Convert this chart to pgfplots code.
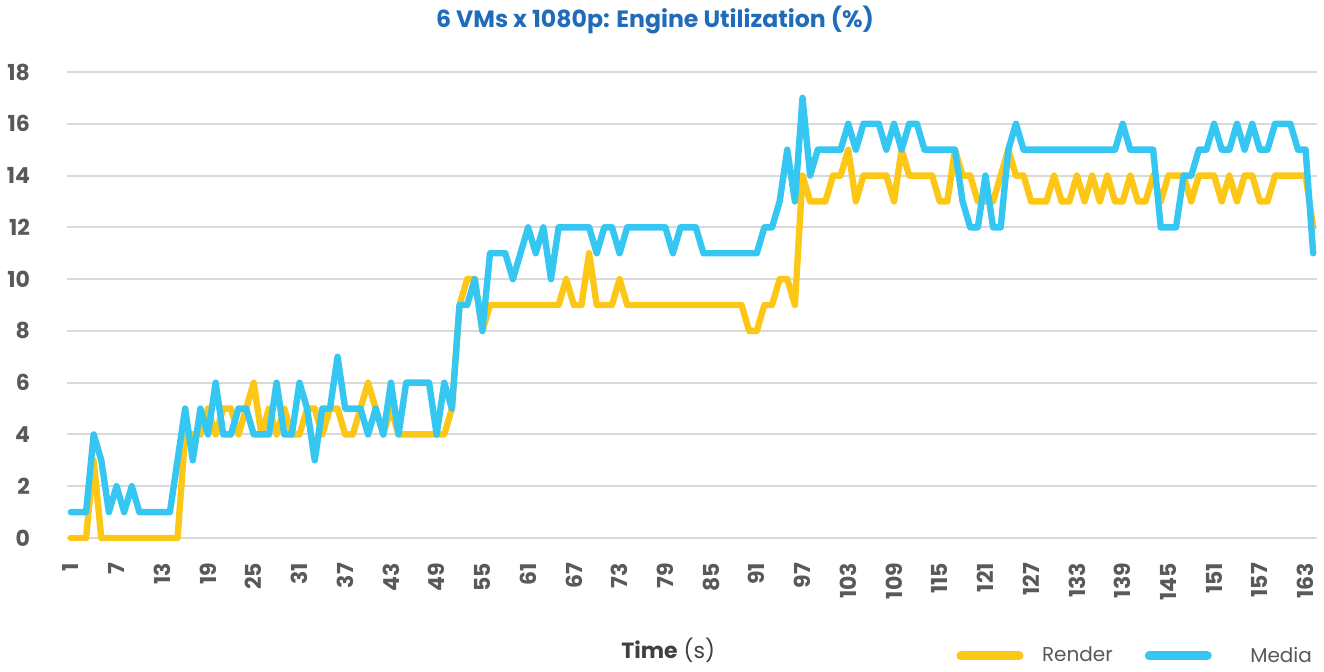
\documentclass[border=0pt]{standalone}
\usepackage{fontspec}
\setmainfont{Poppins}
\usepackage{pgfplots}
\usepackage{pgfplotstable}
\pgfplotsset{compat=1.18}
\definecolor{render}{RGB}{253,199,23}
\definecolor{media}{RGB}{53,198,242}
\definecolor{titleblue}{RGB}{32,108,186}
\definecolor{gridgray}{RGB}{217,217,217}
\definecolor{ticktext}{RGB}{89,89,89}

\pgfplotstableread{
t r m
1 0 1
2 0 1
3 0 1
4 3 4
5 0 3
6 0 1
7 0 2
8 0 1
9 0 2
10 0 1
11 0 1
12 0 1
13 0 1
14 0 1
15 0 3
16 4 5
17 4 3
18 4 5
19 5 4
20 4 6
21 5 4
22 5 4
23 4 5
24 5 5
25 6 4
26 4 4
27 5 4
28 4 6
29 5 4
30 4 4
31 4 6
32 5 5
33 5 3
34 4 5
35 5 5
36 5 7
37 4 5
38 4 5
39 5 5
40 6 4
41 5 5
42 4 4
43 5 6
44 4 4
45 4 6
46 4 6
47 4 6
48 4 6
49 4 4
50 4 6
51 5 5
52 9 9
53 10 9
54 10 10
55 8 8
56 9 11
57 9 11
58 9 11
59 9 10
60 9 11
61 9 12
62 9 11
63 9 12
64 9 10
65 9 12
66 10 12
67 9 12
68 9 12
69 11 12
70 9 11
71 9 12
72 9 12
73 10 11
74 9 12
75 9 12
76 9 12
77 9 12
78 9 12
79 9 12
80 9 11
81 9 12
82 9 12
83 9 12
84 9 11
85 9 11
86 9 11
87 9 11
88 9 11
89 9 11
90 8 11
91 8 11
92 9 12
93 9 12
94 10 13
95 10 15
96 9 13
97 14 17
98 13 14
99 13 15
100 13 15
101 14 15
102 14 15
103 15 16
104 13 15
105 14 16
106 14 16
107 14 16
108 14 15
109 13 16
110 15 15
111 14 16
112 14 16
113 14 15
114 14 15
115 13 15
116 13 15
117 15 15
118 14 13
119 14 12
120 13 12
121 13 14
122 13 12
123 14 12
124 15 15
125 14 16
126 14 15
127 13 15
128 13 15
129 13 15
130 14 15
131 13 15
132 13 15
133 14 15
134 13 15
135 14 15
136 13 15
137 14 15
138 13 15
139 13 16
140 14 15
141 13 15
142 13 15
143 14 15
144 13 12
145 14 12
146 14 12
147 14 14
148 13 14
149 14 15
150 14 15
151 14 16
152 13 15
153 14 15
154 13 16
155 14 15
156 14 16
157 13 15
158 13 15
159 14 16
160 14 16
161 14 16
162 14 15
163 14 15
164 12 11
}\datatable

\begin{document}
\begin{tikzpicture}
\begin{axis}[
  at={(0,0)}, anchor=south west,
  scale only axis, width=625pt, height=233pt,
  xmin=0.5, xmax=164.5, ymin=0, ymax=18,
  xtick={1,7,...,163}, ytick={0,2,...,18},
  ymajorgrids, grid style={gridgray, line width=1pt},
  axis line style={draw=none}, major tick length=0pt,
  clip=false,
  /pgf/number format/assume math mode=true,
  tick label style={font=\bfseries\fontsize{11}{13}\selectfont, text=ticktext},
  xticklabel style={rotate=90, anchor=east},
  xticklabel shift=9pt,
  yticklabel style={anchor=east, xshift=-15pt},
  every axis title shift=0pt,
  title={6 VMs x 1080p: Engine Utilization (\%)},
  title style={at={(axis description cs:0.4704,1.1116)}, anchor=center,
    font=\bfseries\fontsize{11.8}{14}\selectfont, text=titleblue},
  legend style={at={(axis description cs:0.7064,-0.253)}, anchor=west,
    draw=none, fill=none, legend columns=2,
    font=\fontsize{10}{12}\selectfont, text=ticktext,
    /tikz/every even column/.append style={column sep=14pt}},
  legend cell align=left,
  legend image code/.code={\draw[#1, line width=4.5pt, line cap=round] (2.25pt,0pt) -- (31.25pt,0pt); \path (39.2pt,0pt);},
]
\addplot[render, line width=3.2pt, line join=round, line cap=round] table[x=t, y=r] {\datatable};
\addlegendentry{Render}
\addplot[media, line width=3.2pt, line join=round, line cap=round] table[x=t, y=m] {\datatable};
\addlegendentry{\hspace{10pt}Media}
\node[font=\fontsize{11}{13}\selectfont, text={rgb,255:red,64;green,64;blue,64}] at (axis description cs:0.481,-0.2403) {\textbf{Time} (s)};
\end{axis}
\pgfresetboundingbox
\useasboundingbox (-33.5pt,-66.5pt) rectangle (628.5pt,269pt);
\end{tikzpicture}
\end{document}
